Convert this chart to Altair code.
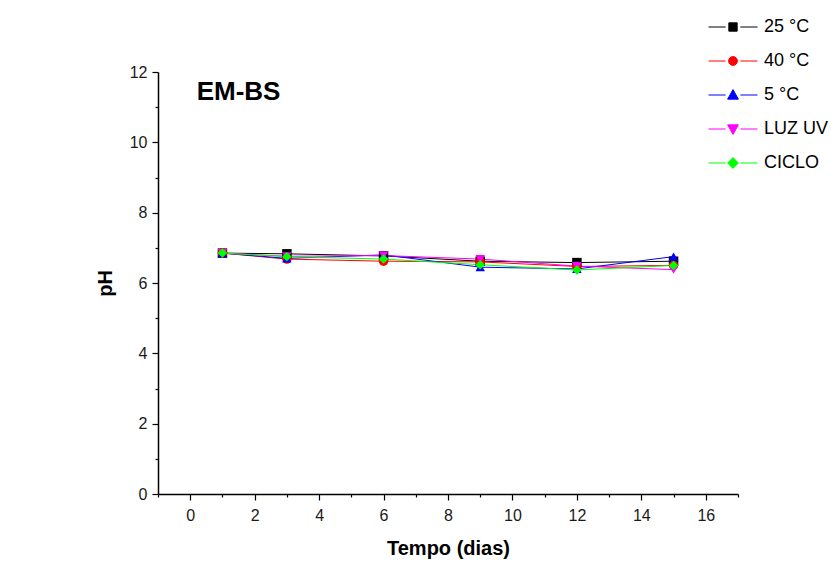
import altair as alt
import pandas as pd

# pH over time for each storage condition
days = [1, 3, 6, 9, 12, 15]
series_names = ["25 °C", "40 °C", "5 °C", "LUZ UV", "CICLO"]
ph_25 = [6.85, 6.83, 6.77, 6.62, 6.58, 6.62]
ph_40 = [6.85, 6.68, 6.62, 6.60, 6.47, 6.50]
ph_5 = [6.85, 6.70, 6.80, 6.45, 6.40, 6.75]
ph_uv = [6.85, 6.76, 6.78, 6.68, 6.48, 6.38]
ph_ciclo = [6.85, 6.75, 6.68, 6.52, 6.37, 6.50]

colors = ["#000000", "#ff0000", "#0000ff", "#ff00ff", "#00ff00"]
shapes = ["square", "circle", "triangle-up", "triangle-down", "diamond"]

# legend keys: line stub, marker, line stub
stub = "M-1,0H-0.3M0.3,0H1"
legend_shapes = [
    stub + "M-0.17,-0.17H0.17V0.17H-0.17Z",
    stub + "M-0.18,0A0.18,0.18 0 1,0 0.18,0A0.18,0.18 0 1,0 -0.18,0Z",
    stub + "M0,-0.22L0.22,0.17H-0.22Z",
    stub + "M0,0.22L0.22,-0.17H-0.22Z",
    stub + "M0,-0.22L0.22,0L0,0.22L-0.22,0Z",
]

rows = []
for name, vals in zip(series_names, [ph_25, ph_40, ph_5, ph_uv, ph_ciclo]):
    for d, v in zip(days, vals):
        rows.append({"dia": d, "pH": v, "serie": name})
df = pd.DataFrame(rows)

FONT = "Liberation Sans"
x_scale = alt.Scale(domain=[-1, 17], nice=False, zero=False)
y_scale = alt.Scale(domain=[0, 12], nice=False)

# colour scale for the drawn marks (its own domain order, no legend)
color_map = dict(zip(series_names, colors))
mark_domain = list(reversed(series_names))
color_enc = alt.Color(
    "serie:N",
    scale=alt.Scale(domain=mark_domain, range=[color_map[n] for n in mark_domain]),
    legend=None,
)

# main axes: even values, labelled
lines = alt.Chart(df).mark_line(strokeWidth=1).encode(
    x=alt.X(
        "dia:Q",
        scale=x_scale,
        axis=alt.Axis(
            title="Tempo (dias)",
            values=list(range(0, 17, 2)),
            tickSize=6,
            grid=False,
            labelPadding=7,
            titlePadding=15,
        ),
    ),
    y=alt.Y(
        "pH:Q",
        scale=y_scale,
        axis=alt.Axis(
            title="pH",
            values=list(range(0, 13, 2)),
            tickSize=6,
            grid=False,
            labelPadding=5,
            titlePadding=14,
        ),
    ),
    color=color_enc,
    order="dia:Q",
)

# minor ticks at odd values
minor = (
    alt.Chart(df)
    .transform_filter("false")
    .mark_point(opacity=0)
    .encode(
        x=alt.X(
            "dia:Q",
            scale=x_scale,
            axis=alt.Axis(
                orient="bottom",
                values=list(range(-1, 18, 2)),
                labels=False,
                domain=False,
                tickSize=3,
                title=None,
                grid=False,
            ),
        ),
        y=alt.Y(
            "pH:Q",
            scale=y_scale,
            axis=alt.Axis(
                orient="left",
                values=list(range(1, 12, 2)),
                labels=False,
                domain=False,
                tickSize=3,
                title=None,
                grid=False,
            ),
        ),
    )
)

# one marker layer per series
point_layers = []
for name, shp in zip(series_names, shapes):
    point_layers.append(
        alt.Chart(df)
        .transform_filter(alt.datum.serie == name)
        .mark_point(filled=True, opacity=1, size=90, shape=shp)
        .encode(
            x=alt.X("dia:Q", scale=x_scale, axis=None),
            y=alt.Y("pH:Q", scale=y_scale, axis=None),
            color=color_enc,
        )
    )

# legend layer: no marks drawn, keys come from the explicit scale domains
leg = alt.Legend(title=None, orient="none", legendX=550, legendY=-70)
legend_layer = (
    alt.Chart(df)
    .transform_filter("false")
    .mark_point(filled=True, opacity=1, strokeWidth=1)
    .encode(
        x=alt.X("dia:Q", scale=x_scale, axis=None),
        y=alt.Y("pH:Q", scale=y_scale, axis=None),
        fill=alt.Fill("serie:N", scale=alt.Scale(domain=series_names, range=colors), legend=leg),
        stroke=alt.Stroke("serie:N", scale=alt.Scale(domain=series_names, range=colors), legend=leg),
        shape=alt.Shape("serie:N", scale=alt.Scale(domain=series_names, range=legend_shapes), legend=leg),
    )
)

label = alt.Chart(pd.DataFrame({"t": ["EM-BS"]})).mark_text(
    text="EM-BS",
    font=FONT,
    fontSize=26,
    fontWeight="bold",
    align="left",
    baseline="middle",
    color="#000000",
).encode(
    x=alt.X(datum=0.2, scale=x_scale, axis=None),
    y=alt.Y(datum=11.43, scale=y_scale, axis=None),
)

chart = (
    alt.layer(lines, minor, *point_layers, legend_layer, label)
    .resolve_axis(x="independent", y="independent")
    .properties(
        width=580,
        height=422,
        autosize=alt.AutoSizeParams(type="none"),
        padding={"left": 158, "top": 72, "right": 101, "bottom": 89},
        background="white",
    )
    .configure_view(stroke=None)
    .configure_axis(
        domainColor="#000000",
        domainWidth=1.5,
        tickColor="#000000",
        tickWidth=1.2,
        labelFont=FONT,
        labelFontSize=16,
        labelColor="#1a1a1a",
        titleFont=FONT,
        titleFontSize=20,
        titleFontWeight="bold",
        titleColor="#000000",
    )
    .configure_legend(
        symbolSize=2400,
        symbolStrokeWidth=1,
        labelFont=FONT,
        labelFontSize=18,
        labelColor="#000000",
        labelOffset=6,
        rowPadding=-10.5,
    )
)

chart.save("out.html", embed_options={"renderer": "svg", "actions": False})
